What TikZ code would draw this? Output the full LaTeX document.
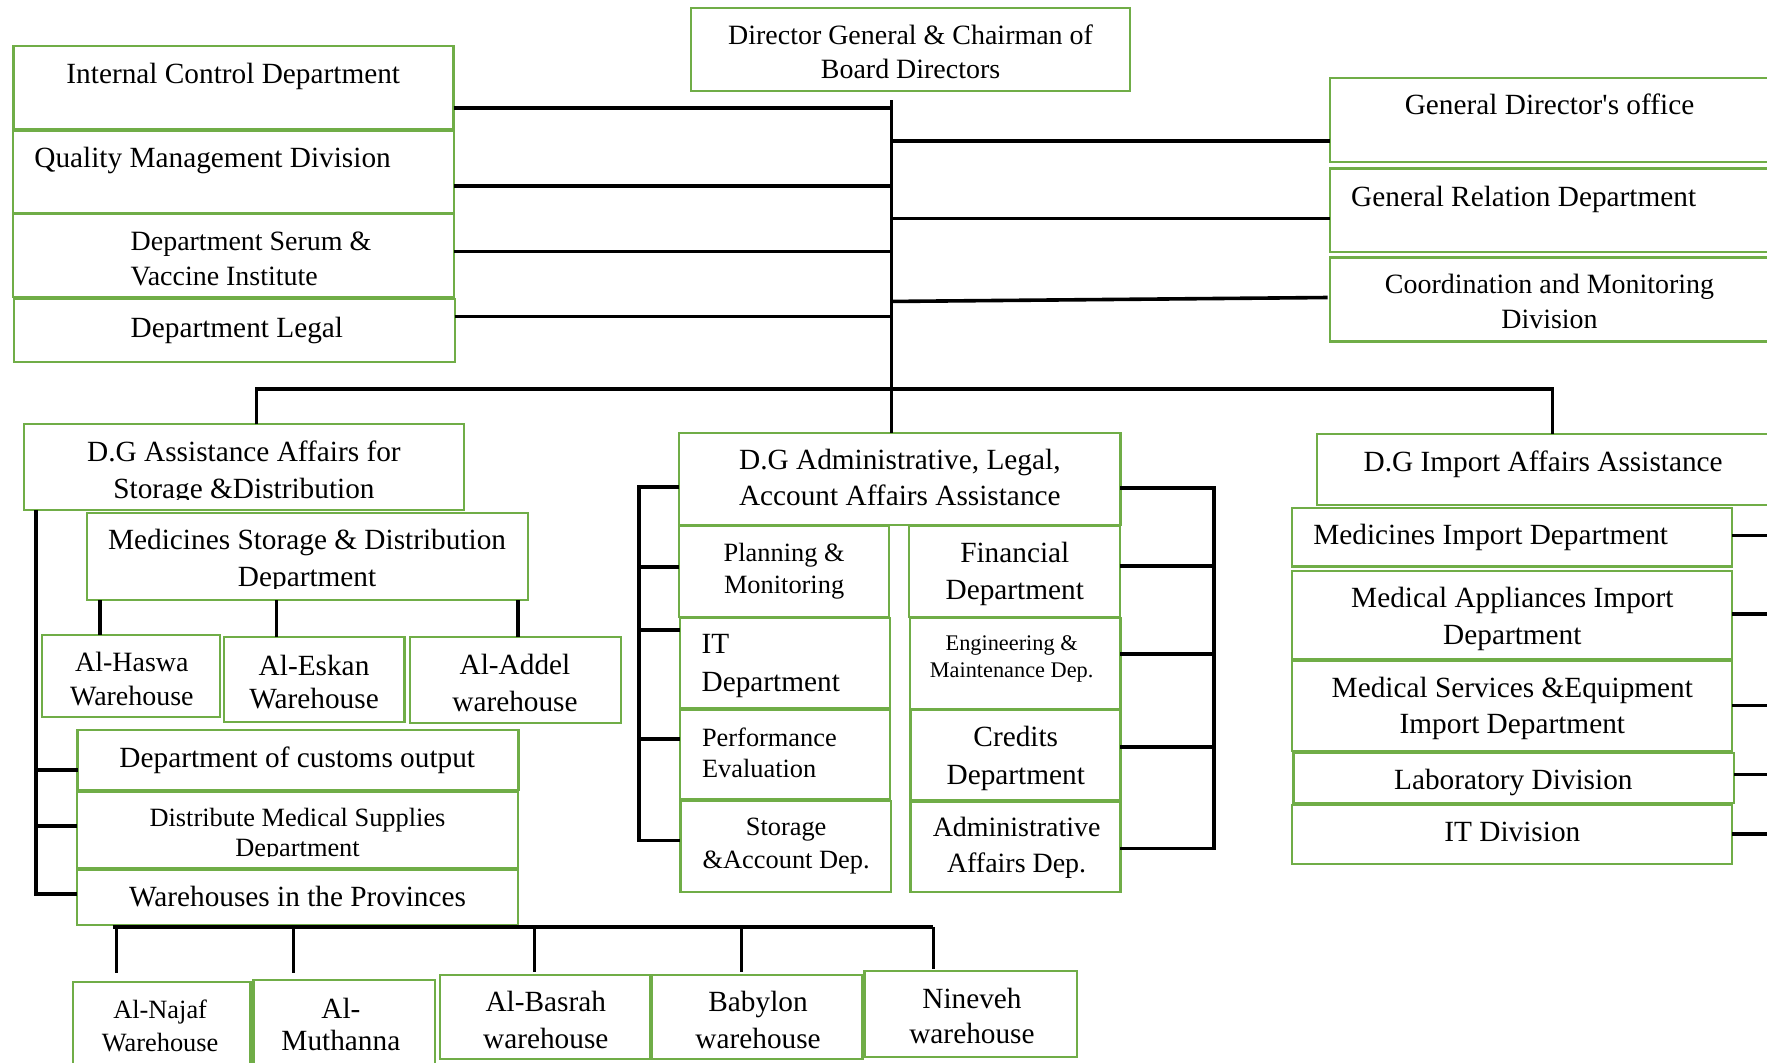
\documentclass[tikz,border=0pt]{standalone}
\usepackage{fontspec}
\setmainfont{Liberation Serif}
\definecolor{bgreen}{HTML}{70AD47}
\newcommand\fmain{\fontsize{13}{15.5}\selectfont}
\newcommand\fmid{\fontsize{12.4}{15}\selectfont}
\newcommand\fsmall{\fontsize{11.7}{14}\selectfont}
\newcommand\ftiny{\fontsize{9.9}{12}\selectfont}
\tikzset{
  box/.style={draw=bgreen, line width=1pt, fill=white, inner sep=0pt, outer sep=0pt, rectangle},
  lbl/.style={inner sep=0pt, outer sep=0pt, anchor=base, font=\fmain},
  lbll/.style={lbl, anchor=base west},
  conn/.style={line width=1.6pt, black},
  thinconn/.style={line width=1.2pt, black},
}
\newcommand\bx[5]{\node[box, anchor=north west, minimum width={(#4-(#2))*0.5pt}, minimum height={(#5-(#3))*0.5pt}] (#1) at (#2,#3) {};}
\begin{document}
\begin{tikzpicture}[x=0.5pt,y=-0.5pt]
\useasboundingbox (0,0) rectangle (1568,943);
\fill[white] (0,0) rectangle (1568,943);
\clip (0,0) rectangle (1568,943);

% ---------- boxes ----------
\bx{dg}{613}{7}{1003}{80.5}
\bx{icd}{12}{41}{402.5}{115}
\bx{qmd}{11.5}{116}{403}{189}
\bx{serum}{11.5}{190}{403}{263.5}
\bx{legal}{12.5}{265.5}{403.5}{321.5}
\bx{gdo}{1180}{69.5}{1600}{143.5}
\bx{grd}{1180.5}{149.5}{1600}{223.5}
\bx{cmd}{1180}{228.5}{1600}{303}

\bx{dga}{21}{376.5}{412}{452.5}
\bx{msd}{77.5}{455.5}{468.5}{532.5}
\bx{haswa}{37}{563.5}{195}{636.5}
\bx{eskan}{198.7}{565}{359}{641}
\bx{addel}{364}{565.5}{551}{641.7}
\bx{dco}{68.8}{647.8}{460}{701}
\bx{dms}{68.5}{702.5}{459.5}{770.5}
\bx{wip}{68.5}{772}{459.5}{821}

\bx{najaf}{65}{871.1}{222.2}{960}
\bx{muth}{225}{869.6}{385.7}{960}
\bx{basrah}{390.4}{865.2}{577}{940}
\bx{babylon}{578.8}{865.2}{765.3}{940}
\bx{nineveh}{767.1}{861.6}{955.5}{937.7}

\bx{dgadm}{602.6}{384}{994.2}{465.8}
\bx{plan}{602.8}{466.8}{789.2}{547.2}
\bx{itd}{603.4}{548.1}{789.8}{628.5}
\bx{perf}{603.4}{630}{789.8}{709.3}
\bx{stacc}{603.8}{710.8}{790.6}{791.2}
\bx{fin}{806.9}{466.8}{993.8}{547.2}
\bx{eng}{807.5}{548.1}{994.2}{629}
\bx{cred}{808}{630}{994.2}{710}
\bx{adm}{808}{711.4}{994.2}{791.2}

\bx{dgimp}{1168.4}{385.1}{1600}{448.1}
\bx{medimp}{1146.8}{450.5}{1537.2}{502.8}
\bx{medapp}{1146.8}{506.7}{1537.2}{585}
\bx{medserv}{1146.8}{586.5}{1537.2}{666.1}
\bx{lab}{1147.7}{667.9}{1538.7}{712.8}
\bx{itdiv}{1146.8}{714.3}{1537.2}{766.7}

% ---------- connectors ----------
\coordinate (ctop) at (791,89);
\draw[conn] (ctop) -- (ctop |- dgadm.north);
\coordinate (jl1) at (791,96);
\coordinate (jl2) at (791,165);
\coordinate (jl3) at (791,223);
\coordinate (jl4) at (791,281);
\draw[conn] (icd.east |- jl1) -- (jl1);
\draw[conn] (qmd.east |- jl2) -- (jl2);
\draw[conn] (serum.east |- jl3) -- (jl3);
\draw[conn] (legal.east |- jl4) -- (jl4);
\coordinate (jr1) at (791,125);
\coordinate (jr2) at (791,194);
\coordinate (jr3) at (791,267.5);
\coordinate (jr3e) at (1178,264);
\draw[conn] (jr1) -- (jr1 -| gdo.west);
\draw[conn] (jr2) -- (jr2 -| grd.west);
\draw[conn] (jr3) -- (jr3e);

\coordinate (hl) at (227.5,345);
\coordinate (hr) at (1377.5,345);
\draw[conn] (hl |- dga.north) -- (hl) -- (hr) -- (hr |- dgimp.north);

% left column
\coordinate (lb1) at (32,683);
\coordinate (lb2) at (32,733);
\coordinate (lb3) at (32,793.5);
\draw[conn] (lb3 |- dga.south) -- (lb3) -- (lb3 -| wip.west);
\draw[conn] (lb1) -- (lb1 -| dco.west);
\draw[conn] (lb2) -- (lb2 -| dms.west);
\coordinate (m1) at (88.6,540);
\coordinate (m2) at (245.5,540);
\coordinate (m3) at (459.5,540);
\draw[conn] (m1 |- msd.south) -- (m1 |- haswa.north);
\draw[conn] (m2 |- msd.south) -- (m2 |- eskan.north);
\draw[conn] (m3 |- msd.south) -- (m3 |- addel.north);

% bottom warehouses
\coordinate (bl) at (100.5,822.5);
\coordinate (br) at (828.3,822.5);
\draw[conn] (bl) -- (br);
\coordinate (d1) at (103.3,822.5);
\coordinate (d2) at (260.6,822.5);
\coordinate (d3) at (474.5,822.5);
\coordinate (d4) at (658,822.5);
\draw[thinconn, shorten >=3.7pt] (d1) -- (d1 |- najaf.north);
\draw[thinconn, shorten >=3pt] (d2) -- (d2 |- muth.north);
\draw[thinconn, shorten >=1.5pt] (d3) -- (d3 |- basrah.north);
\draw[thinconn, shorten >=1.5pt] (d4) -- (d4 |- babylon.north);
\draw[thinconn, shorten >=0.7pt] (br) -- (br |- nineveh.north);

% middle column brackets
\coordinate (ml0) at (567,432);
\coordinate (ml1) at (567,503);
\coordinate (ml2) at (567,559.3);
\coordinate (ml3) at (567,655.5);
\coordinate (ml4) at (567,746);
\draw[conn] (ml0 -| dgadm.west) -- (ml0) -- (ml4) -- (ml4 -| stacc.west);
\draw[conn] (ml1) -- (ml1 -| plan.west);
\draw[conn] (ml2) -- (ml2 -| itd.west);
\draw[conn] (ml3) -- (ml3 -| perf.west);
\coordinate (mr0) at (1077,433.3);
\coordinate (mr1) at (1077,502.5);
\coordinate (mr2) at (1077,580.3);
\coordinate (mr3) at (1077,663);
\coordinate (mr4) at (1077,752.8);
\draw[conn] (mr0 -| dgadm.east) -- (mr0) -- (mr4) -- (mr4 -| adm.east);
\draw[conn] (mr1 -| fin.east) -- (mr1);
\draw[conn] (mr2 -| eng.east) -- (mr2);
\draw[conn] (mr3 -| cred.east) -- (mr3);

% right stubs
\coordinate (rs1) at (1580,475.3);
\coordinate (rs2) at (1580,544.8);
\coordinate (rs3) at (1580,626.2);
\coordinate (rs4) at (1580,687.1);
\coordinate (rs5) at (1580,740);
\draw[conn] (rs1 -| medimp.east) -- (rs1);
\draw[conn] (rs2 -| medapp.east) -- (rs2);
\draw[conn] (rs3 -| medserv.east) -- (rs3);
\draw[conn] (rs4 -| lab.east) -- (rs4);
\draw[conn] (rs5 -| itdiv.east) -- (rs5);

% ---------- texts ----------
\node[lbl, font=\fmid] (t1a) at (808,39.5) {Director General \& Chairman of};
\node[lbl, font=\fmid] (t1b) at (808,69.5) {Board Directors};
\node[lbl] (t2) at (207,74.5) {Internal Control Department};
\node[lbll] (t3) at (30.5,149) {Quality Management Division};
\node[lbll, font=\fmid] (t4a) at (116,222.4) {Department Serum \&};
\node[lbll, font=\fmid] (t4b) at (116,252.9) {Vaccine Institute};
\node[lbll] (t5) at (116,299.3) {Department Legal};
\node[lbl] (t6) at (1375,102) {General Director\textquotesingle s office};
\node[lbll] (t7) at (1199,183.4) {General Relation Department};
\node[lbl, font=\fmid] (t8a) at (1375,260.3) {Coordination and Monitoring};
\node[lbl, font=\fmid] (t8b) at (1375,291.3) {Division};

\node[lbl] (t9a) at (216.5,409.7) {D.G Assistance Affairs for};
\begin{scope}
\clip (21,376.5) rectangle (412,443.5);
\node[lbl] (t9b) at (216.5,442.2) {Storage \&Distribution};
\end{scope}
\node[lbl] (t10a) at (272.5,488) {Medicines Storage \& Distribution};
\begin{scope}
\clip (77.5,455.5) rectangle (468.5,522);
\node[lbl] (t10b) at (272.5,520.6) {Department};
\end{scope}
\node[lbl, font=\fmid] (t11a) at (117,596) {Al-Haswa};
\node[lbl, font=\fmid] (t11b) at (117,625.6) {Warehouse};
\node[lbl] (t12a) at (278.7,599) {Al-Eskan};
\node[lbl] (t12b) at (278.7,628.5) {Warehouse};
\node[lbl] (t13a) at (457,598.4) {Al-Addel};
\node[lbl] (t13b) at (457,631.5) {warehouse};
\node[lbl] (t14) at (263.8,681.2) {Department of customs output};
\node[lbl, font=\fsmall] (t15a) at (264,733) {Distribute Medical Supplies};
\begin{scope}
\clip (68.5,702.5) rectangle (459.5,760.3);
\node[lbl, font=\fsmall] (t15b) at (264,759.6) {Department};
\end{scope}
\node[lbl] (t16) at (264,804.5) {Warehouses in the Provinces};

\node[lbl, font=\fsmall] (t17a) at (142.1,904.2) {Al-Najaf};
\node[lbl, font=\fsmall] (t17b) at (142.1,933.2) {Warehouse};
\node[lbl] (t18a) at (302.5,904) {Al-};
\node[lbl] (t18b) at (302.5,932.5) {Muthanna};
\node[lbl] (t19a) at (484.3,897.7) {Al-Basrah};
\node[lbl] (t19b) at (484.3,930.3) {warehouse};
\node[lbl] (t20a) at (672.7,897.7) {Babylon};
\node[lbl] (t20b) at (672.7,930.3) {warehouse};
\node[lbl] (t21a) at (862.5,894.8) {Nineveh};
\node[lbl] (t21b) at (862.5,926.4) {warehouse};

\node[lbl] (t22a) at (798.5,417) {D.G Administrative, Legal,};
\node[lbl] (t22b) at (798.5,449) {Account Affairs Assistance};
\node[lbl, font=\fsmall] (t23a) at (695.8,498.4) {Planning \&};
\node[lbl, font=\fsmall] (t23b) at (695.8,527) {Monitoring};
\node[lbll] (t24a) at (622.6,580.3) {IT};
\node[lbll] (t24b) at (622.6,613.8) {Department};
\node[lbll, font=\fsmall] (t25a) at (623,662) {Performance};
\node[lbll, font=\fsmall] (t25b) at (623,690.1) {Evaluation};
\node[lbl, font=\fsmall] (t26a) at (697.6,741) {Storage};
\node[lbl, font=\fsmall] (t26b) at (697.6,771.1) {\&Account Dep.};
\node[lbl] (t27a) at (900.5,499.3) {Financial};
\node[lbl] (t27b) at (900.5,531.8) {Department};
\node[lbl, font=\ftiny] (t28a) at (897.7,576.8) {Engineering \&};
\node[lbl, font=\ftiny] (t28b) at (897.7,601.3) {Maintenance Dep.};
\node[lbl] (t29a) at (901.4,662.5) {Credits};
\node[lbl] (t29b) at (901.4,695.7) {Department};
\node[lbl, font=\fmid] (t30a) at (902.1,742.4) {Administrative};
\node[lbl, font=\fmid] (t30b) at (902.1,774.4) {Affairs Dep.};

\node[lbl] (t31) at (1369.4,418.5) {D.G Import Affairs Assistance};
\node[lbll] (t32) at (1165.4,483) {Medicines Import Department};
\node[lbl] (t33a) at (1342,538.9) {Medical Appliances Import};
\node[lbl] (t33b) at (1342,572.3) {Department};
\node[lbl] (t34a) at (1342,618.8) {Medical Services \&Equipment};
\node[lbl] (t34b) at (1342,651.3) {Import Department};
\node[lbl] (t35) at (1342.9,701) {Laboratory Division};
\node[lbl] (t36) at (1342,746.9) {IT Division};
\end{tikzpicture}
\end{document}
